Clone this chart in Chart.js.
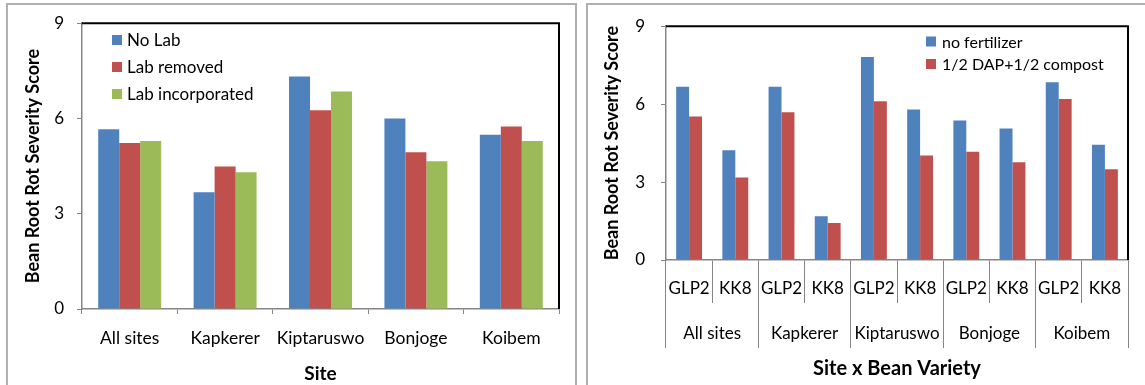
<!DOCTYPE html>
<html>
<head>
<meta charset="utf-8">
<script src="https://cdn.jsdelivr.net/npm/chart.js@4.4.1/dist/chart.umd.min.js"></script>
<style>
  html, body { margin: 0; padding: 0; background: #fff; width: 1145px; height: 385px; overflow: hidden; }
  .frame { position: absolute; border: 2px solid #b0b0b0; border-bottom: none; box-sizing: border-box; }
  #frameA { left: 6px; top: 3px; width: 571px; height: 400px; }
  #frameB { left: 586px; top: 3px; width: 600px; height: 400px; border-right: none; }
  canvas { position: absolute; top: 0; }
  #chartA { left: 0; }
  #chartB { left: 580px; }
</style>
</head>
<body>
<div class="frame" id="frameA"></div>
<div class="frame" id="frameB"></div>
<canvas id="chartA" width="580" height="385"></canvas>
<canvas id="chartB" width="565" height="385"></canvas>
<script>
// Bean root rot severity by site and Lablab treatment
const sites = ['All sites', 'Kapkerer', 'Kiptaruswo', 'Bonjoge', 'Koibem'];
const noLab = [5.66, 3.68, 7.32, 6.00, 5.49];
const labRemoved = [5.23, 4.49, 6.26, 4.94, 5.75];
const labIncorporated = [5.29, 4.31, 6.85, 4.65, 5.29];

// Severity by site x bean variety, with and without fertilizer
const varieties = ['GLP2', 'KK8'];
const noFertilizer = [6.67, 4.22, 6.67, 1.68, 7.81, 5.79, 5.37, 5.06, 6.84, 4.44];
const dapCompost = [5.52, 3.18, 5.69, 1.42, 6.11, 4.02, 4.17, 3.76, 6.20, 3.49];

const yMin = 0, yMax = 9, yStep = 3;
const yTitle = 'Bean Root Rot Severity Score';

const BLUE = '#4F81BD', RED = '#C0504D', GREEN = '#9BBB59';
const AXIS = '#868686';
const FONT = 'Lato, "Liberation Sans", sans-serif';

// Dark top/right border of the plot area
const plotFrame = {
  id: 'plotFrame',
  afterDatasetsDraw(chart) {
    const { ctx, chartArea: a } = chart;
    ctx.save();
    ctx.strokeStyle = '#000';
    ctx.lineWidth = 2;
    ctx.beginPath();
    ctx.moveTo(a.left, a.top);
    ctx.lineTo(a.right, a.top);
    ctx.lineTo(a.right, a.bottom);
    ctx.stroke();
    ctx.restore();
  }
};

// Legend drawn inside the plot area, stacked vertically
const innerLegend = {
  id: 'innerLegend',
  afterDraw(chart, args, opts) {
    const { ctx } = chart;
    ctx.save();
    ctx.font = opts.font;
    ctx.textBaseline = 'middle';
    chart.data.datasets.forEach((ds, i) => {
      const y = opts.y + i * opts.gap;
      ctx.fillStyle = ds.backgroundColor;
      ctx.fillRect(opts.x, y - opts.box / 2, opts.box, opts.box);
      ctx.fillStyle = '#000';
      ctx.fillText(ds.label, opts.textX, y + 1);
    });
    ctx.restore();
  }
};

function yScale(width, titlePad, labelPad) {
  return {
    min: yMin, max: yMax,
    afterFit(s) { s.width = width; },
    ticks: { stepSize: yStep, padding: labelPad, color: '#000', font: { family: FONT, size: 17 } },
    grid: { drawOnChartArea: false, tickLength: 5, color: AXIS },
    border: { color: AXIS, width: 1.5 },
    title: { display: true, text: yTitle, color: '#000', padding: { top: titlePad, bottom: 0 },
             font: { family: FONT, size: 18, weight: 'bold' } }
  };
}

Chart.defaults.font.family = FONT;

new Chart(document.getElementById('chartA'), {
  type: 'bar',
  data: {
    labels: sites,
    datasets: [
      { label: 'No Lab', data: noLab, backgroundColor: BLUE },
      { label: 'Lab removed', data: labRemoved, backgroundColor: RED },
      { label: 'Lab incorporated', data: labIncorporated, backgroundColor: GREEN }
    ]
  },
  options: {
    responsive: false, animation: false, devicePixelRatio: 1,
    layout: { padding: { left: 0, top: 20, right: 21, bottom: 0 } },
    datasets: { bar: { categoryPercentage: 0.66, barPercentage: 1 } },
    plugins: {
      legend: { display: false }, tooltip: { enabled: false },
      innerLegend: { x: 112, textX: 127, y: 40, gap: 27, box: 10, font: '17px ' + FONT }
    },
    scales: {
      x: {
        afterFit(s) { s.height = 76; },
        ticks: { padding: 14, maxRotation: 0, minRotation: 0, autoSkip: false, color: '#000',
                 font: { family: FONT, size: 17.5 } },
        grid: { drawOnChartArea: false, offset: true, tickLength: 5, color: AXIS },
        border: { color: AXIS, width: 1.5 },
        title: { display: true, text: 'Site', color: '#000', padding: { top: 0, bottom: 0 },
                 font: { family: FONT, size: 19, weight: 'bold' } }
      },
      y: yScale(82, 22, 13)
    }
  },
  plugins: [plotFrame, innerLegend]
});

// Two-level category axis: variety labels on top, site labels beneath
const siteVarietyLabels = [];
sites.forEach(s => varieties.forEach(v => siteVarietyLabels.push(v)));

new Chart(document.getElementById('chartB'), {
  type: 'bar',
  data: {
    labels: siteVarietyLabels,
    datasets: [
      { label: 'no fertilizer', data: noFertilizer, backgroundColor: BLUE },
      { label: '1/2 DAP+1/2 compost', data: dapCompost, backgroundColor: RED }
    ]
  },
  options: {
    responsive: false, animation: false, devicePixelRatio: 1,
    layout: { padding: { left: 0, top: 25, right: 17, bottom: 0 } },
    datasets: { bar: { categoryPercentage: 0.56, barPercentage: 1 } },
    plugins: {
      legend: { display: false }, tooltip: { enabled: false },
      innerLegend: { x: 346, textX: 362, y: 41.5, gap: 22.5, box: 10, font: '16px ' + FONT }
    },
    scales: {
      x: {
        weight: 0,
        afterFit(s) { s.height = 43; },
        ticks: { padding: -25, maxRotation: 0, minRotation: 0, autoSkip: false, color: '#000',
                 font: { family: FONT, size: 17 } },
        grid: { drawOnChartArea: false, offset: true, tickLength: 43, color: AXIS },
        border: { color: AXIS, width: 1.5 }
      },
      site: {
        type: 'category', position: 'bottom', weight: 1,
        labels: sites, offset: true,
        afterFit(s) { s.height = 82; },
        ticks: { padding: -25, maxRotation: 0, minRotation: 0, autoSkip: false, color: '#000',
                 font: { family: FONT, size: 17 } },
        grid: { drawOnChartArea: false, offset: true, tickLength: 45, color: AXIS },
        border: { display: false },
        title: { display: true, text: 'Site x Bean Variety', color: '#000', padding: { top: 0, bottom: 4 },
                 font: { family: FONT, size: 20, weight: 'bold' } }
      },
      y: yScale(86, 21, 16)
    }
  },
  plugins: [plotFrame, innerLegend]
});
</script>
</body>
</html>
